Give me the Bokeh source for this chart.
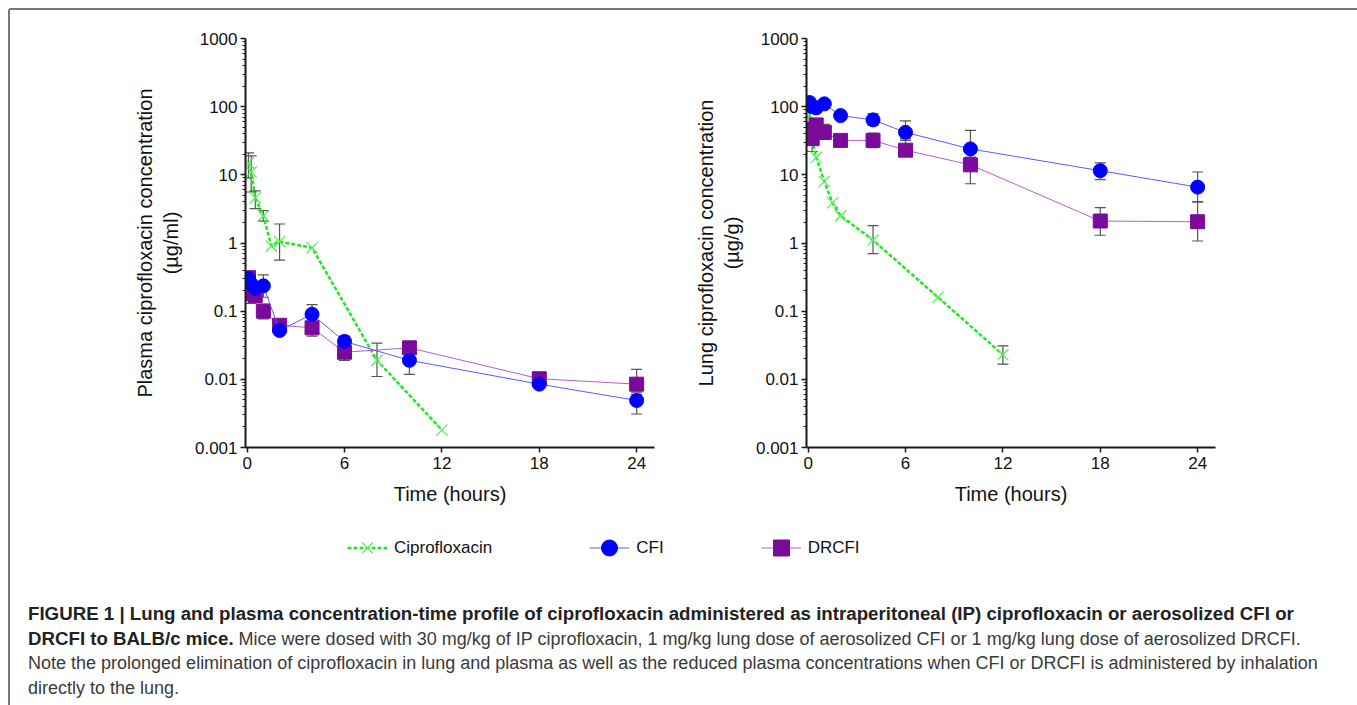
from bokeh.plotting import figure
from bokeh.models import (Range1d, FixedTicker, CustomJSTickFormatter, Whisker, TeeHead,
                          ColumnDataSource, Legend, LegendItem, Div)
from bokeh.layouts import row, column
from bokeh.embed import file_html
from bokeh.resources import INLINE

# ---------------- data ----------------
time_ticks = [0, 6, 12, 18, 24]
y_ticks = [0.001, 0.01, 0.1, 1, 10, 100, 1000]

# Plasma (ug/ml)
plasma_cipro_t = [0.083, 0.25, 0.5, 1, 1.5, 2, 4, 8, 12]
plasma_cipro_y = [15, 11, 4.6, 2.5, 0.9, 1.05, 0.85, 0.019, 0.0018]
plasma_cipro_err_t = [0.083, 0.25, 0.5, 1, 2, 8]
plasma_cipro_err_hi = [21, 19, 5.8, 3.0, 1.9, 0.034]
plasma_cipro_err_lo = [9, 5.6, 3.2, 2.1, 0.56, 0.011]

plasma_cfi_t = [0.083, 0.25, 0.5, 1, 2, 4, 6, 10, 18, 24]
plasma_cfi_y = [0.30, 0.25, 0.215, 0.235, 0.052, 0.09, 0.036, 0.019, 0.0085, 0.0049]
plasma_cfi_err_t = [0.083, 1, 4, 6, 10, 24]
plasma_cfi_err_hi = [0.37, 0.34, 0.125, 0.043, 0.025, 0.006]
plasma_cfi_err_lo = [0.25, 0.16, 0.07, 0.03, 0.0118, 0.0031]

plasma_drcfi_t = [0.083, 0.25, 0.5, 1, 2, 4, 6, 10, 18, 24]
plasma_drcfi_y = [0.31, 0.18, 0.17, 0.10, 0.062, 0.057, 0.025, 0.029, 0.0102, 0.0085]
plasma_drcfi_err_t = [0.25, 1, 4, 6, 10, 24]
plasma_drcfi_err_hi = [0.22, 0.127, 0.07, 0.03, 0.031, 0.014]
plasma_drcfi_err_lo = [0.13, 0.077, 0.043, 0.019, 0.025, 0.0065]

# Lung (ug/g)
lung_cipro_t = [0.083, 0.25, 0.5, 1, 1.5, 2, 4, 8, 12]
lung_cipro_y = [75, 35, 18, 8.0, 3.9, 2.5, 1.1, 0.16, 0.023]
lung_cipro_err_t = [0.083, 0.25, 4, 12]
lung_cipro_err_hi = [90, 45, 1.8, 0.031]
lung_cipro_err_lo = [55, 22, 0.7, 0.0167]

lung_cfi_t = [0.083, 0.25, 0.5, 1, 2, 4, 6, 10, 18, 24]
lung_cfi_y = [115, 100, 96, 110, 74, 64, 42, 24, 11.5, 6.6]
lung_cfi_err_t = [4, 6, 10, 18, 24]
lung_cfi_err_hi = [79, 62, 45, 15, 11]
lung_cfi_err_lo = [53, 34, 18, 8.5, 4.0]

lung_drcfi_t = [0.083, 0.25, 0.5, 1, 2, 4, 6, 10, 18, 24]
lung_drcfi_y = [47, 34, 54, 42, 32, 32, 23, 14, 2.1, 2.05]
lung_drcfi_err_t = [0.25, 1, 4, 6, 10, 18, 24]
lung_drcfi_err_hi = [40, 55, 41, 32, 18, 3.3, 4.0]
lung_drcfi_err_lo = [27, 33, 25, 20, 7.4, 1.3, 1.07]

series_names = ["Ciprofloxacin", "CFI", "DRCFI"]

# ---------------- styles ----------------
FONT = "Liberation Sans"
CIPRO_LINE = "#22e622"
CIPRO_MARK = "#55ee55"
CFI_COLOR = "#0000ff"
CFI_LINE = "#5a5aff"
DR_COLOR = "#7a0a9a"
DR_LINE = "#b060d0"
ERR_COLOR = "#555555"

minor = [m * 10.0 ** e for e in range(-3, 3) for m in range(2, 10)]


def make_plot(ylabel, width, mbl, mbr, data):
    p = figure(width=width, height=515, x_range=Range1d(-0.1, 25.1), y_range=Range1d(0.001, 1000),
               y_axis_type="log", output_backend="svg", toolbar_location=None,
               min_border_left=mbl, min_border_right=mbr, min_border_top=28, min_border_bottom=78)
    p.xgrid.visible = False
    p.ygrid.visible = False
    p.outline_line_color = None
    p.background_fill_color = None
    p.border_fill_color = None
    p.xaxis.ticker = FixedTicker(ticks=time_ticks)
    p.yaxis.ticker = FixedTicker(ticks=y_ticks, minor_ticks=minor)
    p.yaxis.formatter = CustomJSTickFormatter(code="""
        if (tick >= 1) return Math.round(tick).toString();
        const d = Math.round(-Math.log10(tick));
        return tick.toFixed(d);
    """)
    for ax in (p.xaxis[0], p.yaxis[0]):
        ax.axis_line_width = 2
        ax.axis_line_color = "#1a1a1a"
        ax.major_tick_line_color = "#1a1a1a"
        ax.major_tick_line_width = 1.5
        ax.major_tick_out = 5
        ax.major_tick_in = 0
        ax.minor_tick_out = 3
        ax.minor_tick_in = 0
        ax.minor_tick_line_color = "#1a1a1a"
        ax.major_label_text_font = FONT
        ax.major_label_text_font_size = "17px"
        ax.major_label_text_color = "#111111"
        ax.axis_label_text_font = FONT
        ax.axis_label_text_font_size = "20px"
        ax.axis_label_text_font_style = "normal"
        ax.axis_label_text_color = "#111111"
    p.xaxis.minor_tick_line_color = None
    p.xaxis.axis_label = "Time (hours)"
    p.xaxis.major_label_standoff = 4
    p.xaxis.axis_label_standoff = 11
    p.yaxis.axis_label = ylabel
    p.yaxis.major_label_standoff = 3
    p.yaxis.axis_label_standoff = 10

    (ct, cy, cet, ceh, cel), (ft, fy, fet, feh, fel), (dt, dy, det, deh, del_) = data

    for et, eh, el in ((cet, ceh, cel), (fet, feh, fel), (det, deh, del_)):
        src = ColumnDataSource(dict(base=et, upper=eh, lower=el))
        w = Whisker(source=src, base="base", upper="upper", lower="lower",
                    line_color=ERR_COLOR, line_width=1.2, level="underlay",
                    upper_head=TeeHead(size=11, line_color=ERR_COLOR, line_width=1.2),
                    lower_head=TeeHead(size=11, line_color=ERR_COLOR, line_width=1.2))
        p.add_layout(w)

    p.line(ct, cy, line_color=CIPRO_LINE, line_width=2.5, line_dash="4 2")
    p.scatter(ct, cy, marker="x", size=16, line_color=CIPRO_MARK, line_width=1.2)
    p.line(dt, dy, line_color=DR_LINE, line_width=1)
    p.scatter(dt, dy, marker="square", size=14, fill_color=DR_COLOR, line_color=DR_COLOR)
    p.line(ft, fy, line_color=CFI_LINE, line_width=1)
    p.scatter(ft, fy, marker="circle", size=14, fill_color=CFI_COLOR, line_color=CFI_COLOR)
    return p


p1 = make_plot("Plasma ciprofloxacin concentration\n(µg/ml)", 679, 235, 35,
               ((plasma_cipro_t, plasma_cipro_y, plasma_cipro_err_t, plasma_cipro_err_hi, plasma_cipro_err_lo),
                (plasma_cfi_t, plasma_cfi_y, plasma_cfi_err_t, plasma_cfi_err_hi, plasma_cfi_err_lo),
                (plasma_drcfi_t, plasma_drcfi_y, plasma_drcfi_err_t, plasma_drcfi_err_hi, plasma_drcfi_err_lo)))
p2 = make_plot("Lung ciprofloxacin concentration\n(µg/g)", 660, 117, 134,
               ((lung_cipro_t, lung_cipro_y, lung_cipro_err_t, lung_cipro_err_hi, lung_cipro_err_lo),
                (lung_cfi_t, lung_cfi_y, lung_cfi_err_t, lung_cfi_err_hi, lung_cfi_err_lo),
                (lung_drcfi_t, lung_drcfi_y, lung_drcfi_err_t, lung_drcfi_err_hi, lung_drcfi_err_lo)))

# ---------------- legend ----------------
# the legend figure draws the plasma series outside its visible range, so only the legend shows
leg = figure(width=1339, height=50, x_range=Range1d(100, 101), y_range=Range1d(100, 101),
             output_backend="svg", toolbar_location=None, min_border=0)
leg.axis.visible = False
leg.grid.visible = False
leg.outline_line_color = None
leg.border_fill_color = None
leg.background_fill_color = None
r_cl = leg.line(plasma_cipro_t, plasma_cipro_y, line_color=CIPRO_LINE, line_width=2.5, line_dash="4 2")
r_cm = leg.scatter(plasma_cipro_t, plasma_cipro_y, marker="x", size=16, line_color=CIPRO_MARK,
                   line_width=1.3)
r_fl = leg.line(plasma_cfi_t, plasma_cfi_y, line_color=CFI_LINE, line_width=1)
r_fm = leg.scatter(plasma_cfi_t, plasma_cfi_y, marker="circle", size=14,
                   fill_color=CFI_COLOR, line_color=CFI_COLOR)
r_dl = leg.line(plasma_drcfi_t, plasma_drcfi_y, line_color=DR_LINE, line_width=1)
r_dm = leg.scatter(plasma_drcfi_t, plasma_drcfi_y, marker="square", size=14,
                   fill_color=DR_COLOR, line_color=DR_COLOR)
legend = Legend(items=[LegendItem(label=series_names[0], renderers=[r_cl, r_cm]),
                       LegendItem(label=series_names[1], renderers=[r_fl, r_fm]),
                       LegendItem(label=series_names[2], renderers=[r_dl, r_dm])],
                orientation="horizontal", location=(337, 5), padding=0, margin=0,
                spacing=97, glyph_width=40, glyph_height=45, label_standoff=7,
                border_line_color=None, background_fill_alpha=0,
                label_text_font=FONT, label_text_font_size="17px", label_text_color="#111111")
leg.add_layout(legend)

# ---------------- caption ----------------
caption_html = (
    '<span style="font-weight:bold;color:#222222;font-size:18.7px">FIGURE 1 | Lung and plasma '
    'concentration-time profile of ciprofloxacin administered as intraperitoneal (IP) ciprofloxacin '
    'or aerosolized CFI or<br>DRCFI to BALB/c mice.</span> Mice were dosed with 30 mg/kg of IP '
    'ciprofloxacin, 1 mg/kg lung dose of aerosolized CFI or 1 mg/kg lung dose of aerosolized DRCFI.<br>'
    'Note the prolonged elimination of ciprofloxacin in lung and plasma as well as the reduced plasma '
    'concentrations when CFI or DRCFI is administered by inhalation<br>'
    'directly to the lung.'
)
cap = Div(text=caption_html, width=1339, height=122,
          styles={"font-family": FONT, "font-size": "18px", "line-height": "24.5px",
                  "color": "#3a3a3a", "padding-left": "13px", "padding-top": "22px",
                  "box-sizing": "border-box", "overflow": "hidden", "white-space": "nowrap"})

layout = column(row(p1, p2), leg, cap,
                styles={"margin-left": "8px", "margin-top": "8px",
                        "border-top": "2px solid #777777", "border-left": "2px solid #777777",
                        "border-right": "2px solid #777777", "border-top-left-radius": "3px",
                        "border-top-right-radius": "3px"})

open("out.html", "w").write(file_html(layout, INLINE))
